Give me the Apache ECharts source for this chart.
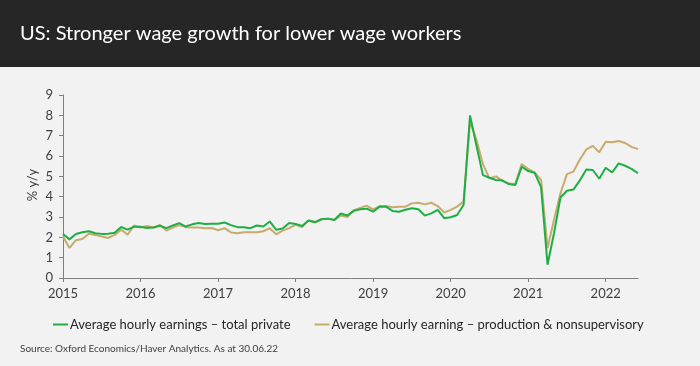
<!DOCTYPE html>
<html><head><meta charset="utf-8">
<script src="https://cdn.jsdelivr.net/npm/echarts@6/dist/echarts.min.js"></script>
<style>html,body{margin:0;padding:0;background:#f2f2f2;}#c{width:700px;height:366px;}</style>
</head><body><div id="c"></div>
<script>
// ---- data ----
const yearLabels = ['2015','2016','2017','2018','2019','2020','2021','2022'];
const monthsInLastYear = 6;
const categories = [];
yearLabels.forEach(function (y, yi) {
  const n = yi === yearLabels.length - 1 ? monthsInLastYear : 12;
  for (let m = 1; m <= n; m++) categories.push(y + '-' + String(m).padStart(2, '0'));
});
const yTickLabels = ['0','1','2','3','4','5','6','7','8','9'];
const yAxisName = '% y/y';
const seriesNames = ['Average hourly earnings \u2013 total private',
                     'Average hourly earning \u2013 production & nonsupervisory'];
const totalPrivate = [
  2.16, 1.90, 2.16, 2.25, 2.30, 2.20, 2.17, 2.18, 2.22, 2.51, 2.38, 2.52,
  2.52, 2.46, 2.48, 2.57, 2.45, 2.58, 2.70, 2.53, 2.64, 2.70, 2.66, 2.67,
  2.67, 2.73, 2.60, 2.50, 2.50, 2.45, 2.58, 2.53, 2.78, 2.37, 2.43, 2.70,
  2.66, 2.56, 2.83, 2.75, 2.89, 2.92, 2.85, 3.17, 3.07, 3.30, 3.38, 3.41,
  3.26, 3.51, 3.51, 3.30, 3.26, 3.36, 3.43, 3.38, 3.07, 3.18, 3.35, 2.94,
  2.99, 3.10, 3.59, 8.00, 6.50, 5.06, 4.93, 4.82, 4.79, 4.62, 4.57, 5.47,
  5.26, 5.17, 4.47, 0.65, 2.20, 3.96, 4.29, 4.35, 4.80, 5.34, 5.31, 4.88,
  5.42, 5.19, 5.64, 5.52, 5.37, 5.15
];
const productionNonsup = [
  2.04, 1.48, 1.86, 1.92, 2.18, 2.12, 2.04, 1.97, 2.12, 2.38, 2.13, 2.58,
  2.48, 2.56, 2.48, 2.61, 2.33, 2.48, 2.60, 2.50, 2.48, 2.48, 2.45, 2.46,
  2.35, 2.45, 2.24, 2.20, 2.25, 2.25, 2.25, 2.30, 2.45, 2.15, 2.33, 2.45,
  2.61, 2.50, 2.83, 2.73, 2.89, 2.92, 2.85, 3.07, 3.00, 3.33, 3.45, 3.56,
  3.36, 3.54, 3.54, 3.48, 3.51, 3.51, 3.67, 3.70, 3.62, 3.70, 3.54, 3.22,
  3.35, 3.51, 3.76, 7.70, 6.80, 5.60, 4.90, 5.00, 4.79, 4.65, 4.62, 5.60,
  5.36, 5.19, 4.82, 1.47, 2.86, 4.17, 5.11, 5.23, 5.83, 6.32, 6.50, 6.18,
  6.70, 6.68, 6.74, 6.64, 6.45, 6.34
];
const titleText = 'US: Stronger wage growth for lower wage workers';
const sourceText = 'Source: Oxford Economics/Haver Analytics. As at 30.06.22';

// ---- chart ----
const FONT = 'Lato, "Open Sans", sans-serif';
const chart = echarts.init(document.getElementById('c'), null, {renderer: 'canvas'});
const isYearStart = function (idx) { return idx % 12 === 0; };
chart.setOption({
  animation: false,
  backgroundColor: '#f2f2f2',
  graphic: [
    {type: 'rect', x: 0, y: 0, shape: {width: 700, height: 67}, style: {fill: '#262626'}, z: 0},
    {type: 'text', x: 20, y: 34, style: {text: titleText, fill: '#ffffff', font: '20px ' + FONT, textVerticalAlign: 'middle', verticalAlign: 'middle'}},
    {type: 'text', x: 33, y: 185, rotation: Math.PI / 2, style: {text: yAxisName, fill: '#404040', font: '13px ' + FONT, textAlign: 'center', align: 'center', textVerticalAlign: 'middle', verticalAlign: 'middle'}},
    {type: 'text', x: 20, y: 349, style: {text: sourceText, fill: '#404040', font: '10px ' + FONT, textVerticalAlign: 'middle', verticalAlign: 'middle'}}
  ],
  grid: {left: 63, right: 62, top: 95, bottom: 88, containLabel: false},
  legend: {
    left: 48, top: 313, itemGap: 24, itemWidth: 15, itemHeight: 2,
    icon: 'rect',
    textStyle: {color: '#262626', fontFamily: FONT, fontSize: 13, padding: [0, 0, 0, -3]},
    data: seriesNames
  },
  xAxis: {
    type: 'category', data: categories, boundaryGap: false,
    axisLine: {lineStyle: {color: '#808080', width: 1}},
    axisTick: {show: true, interval: function (idx) { return isYearStart(idx); }, length: 4, lineStyle: {color: '#808080'}},
    axisLabel: {interval: function (idx) { return isYearStart(idx); }, formatter: function (v) { return v.slice(0, 4); },
      color: '#404040', fontFamily: FONT, fontSize: 13, margin: 9},
    splitLine: {show: false}
  },
  yAxis: {
    type: 'value', min: 0, max: 9, interval: 1,
    axisLine: {show: true, lineStyle: {color: '#808080', width: 1}},
    axisTick: {show: true, length: 4, lineStyle: {color: '#808080'}},
    axisLabel: {color: '#404040', fontFamily: FONT, fontSize: 13, margin: 10,
      formatter: function (v) { return yTickLabels[v]; }},
    splitLine: {show: false}
  },
  series: [
    {name: seriesNames[0], type: 'line', data: totalPrivate, showSymbol: false, symbol: 'none',
     lineStyle: {color: '#1fae45', width: 2}, itemStyle: {color: '#1fae45'}, z: 3},
    {name: seriesNames[1], type: 'line', data: productionNonsup, showSymbol: false, symbol: 'none',
     lineStyle: {color: '#c8ab6c', width: 2}, itemStyle: {color: '#c8ab6c'}, z: 2}
  ]
});
</script></body></html>
